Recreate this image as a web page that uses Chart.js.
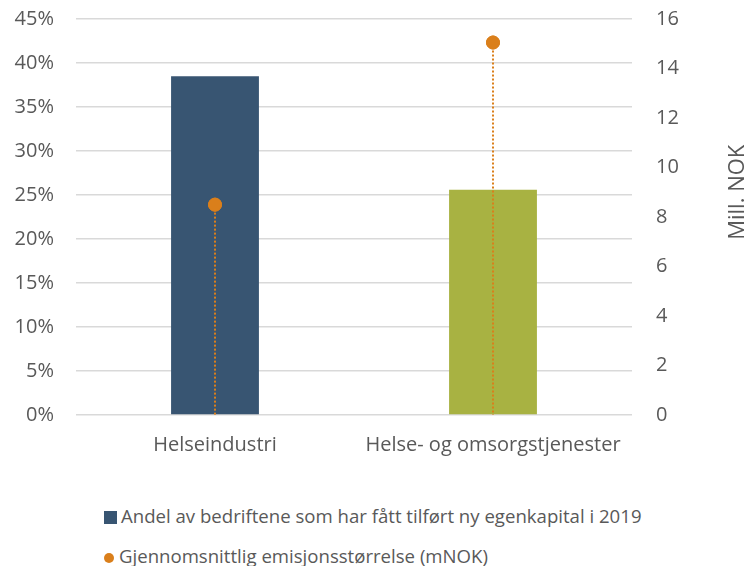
<!DOCTYPE html>
<html lang="no">
<head>
    <meta charset="UTF-8">
    <title>Egenkapital</title>
    <script src="https://cdn.jsdelivr.net/npm/chart.js"></script>
    <style>
        html, body { margin: 0; padding: 0; background: #fff; overflow: hidden; }
        .wrap { position: relative; width: 749px; height: 566px; overflow: hidden; }
        .chart-box { position: absolute; left: 0; top: -15px; width: 749px; height: 482px; }
        .legend { position: absolute; left: 104px; top: 504px; font-family: "Open Sans", sans-serif; font-size: 18.6px; color: #595959; }
        .legend div { height: 24px; line-height: 24px; margin-bottom: 16px; white-space: nowrap; }
        .sq { display: inline-block; width: 13px; height: 13px; background: #385572; margin-right: 4px; vertical-align: -1px; }
        .dot { display: inline-block; width: 10px; height: 10px; border-radius: 50%; background: #DA7F1B; margin-right: 5px; vertical-align: 0px; }
    </style>
</head>
<body>
    <div class="wrap">
        <div class="chart-box"><canvas id="chart"></canvas></div>
        <div class="legend">
            <div><span class="sq"></span>Andel av bedriftene som har fått tilført ny egenkapital i 2019</div>
            <div><span class="dot"></span>Gjennomsnittlig emisjonsstørrelse (mNOK)</div>
        </div>
    </div>

    <script>
        // data
        const categories = ['Helseindustri', 'Helse- og omsorgstjenester'];
        const andel = [0.385, 0.256];
        const emisjon = [8.5, 15.05];
        const barColors = ['#385572', '#A8B242'];
        const orange = '#DA7F1B';

        const fontFamily = '"Open Sans", sans-serif';
        const font = { family: fontFamily, size: 20 };

        // stiplet linje fra punkt ned til null + aksetittel høyre
        const dropLines = {
            id: 'dropLines',
            afterDatasetsDraw(chart) {
                const meta = chart.getDatasetMeta(1);
                const y1 = chart.scales.y1;
                const ctx = chart.ctx;
                ctx.save();
                ctx.strokeStyle = orange;
                ctx.lineWidth = 2;
                ctx.setLineDash([2, 2]);
                meta.data.forEach(pt => {
                    ctx.beginPath();
                    ctx.moveTo(pt.x, pt.y);
                    ctx.lineTo(pt.x, y1.getPixelForValue(0));
                    ctx.stroke();
                });
                ctx.restore();
                meta.data.forEach(pt => pt.draw(ctx));

                // "Mill. NOK" leses nedenfra og opp
                ctx.save();
                ctx.translate(y1.right - 11, y1.getPixelForValue(9.0));
                ctx.rotate(-Math.PI / 2);
                ctx.font = '22px ' + fontFamily;
                ctx.fillStyle = '#595959';
                ctx.textAlign = 'center';
                ctx.textBaseline = 'middle';
                ctx.fillText('Mill. NOK', 0, 0);
                ctx.restore();
            }
        };

        new Chart(document.getElementById('chart'), {
            type: 'bar',
            data: {
                labels: categories,
                datasets: [{
                    data: andel,
                    backgroundColor: barColors,
                    barPercentage: 0.316,
                    categoryPercentage: 1,
                    yAxisID: 'y',
                    order: 2
                }, {
                    type: 'line',
                    data: emisjon,
                    showLine: false,
                    pointRadius: 6.5,
                    pointBackgroundColor: orange,
                    pointBorderColor: orange,
                    yAxisID: 'y1',
                    order: 1
                }]
            },
            options: {
                responsive: true,
                maintainAspectRatio: false,
                animation: false,
                layout: { padding: { top: 8, bottom: 0 } },
                plugins: { legend: { display: false }, tooltip: { enabled: false } },
                scales: {
                    x: {
                        grid: { display: false },
                        border: { display: false },
                        ticks: { color: '#595959', font: font, padding: 10 }
                    },
                    y: {
                        position: 'left',
                        min: 0, max: 0.45,
                        ticks: {
                            stepSize: 0.05,
                            color: '#595959', font: font, padding: 22,
                            callback: v => Math.round(v * 100) + '%'
                        },
                        grid: { color: '#d9d9d9', lineWidth: 1.5, drawTicks: false },
                        border: { display: false },
                        afterFit(s) { s.width = 76; }
                    },
                    y1: {
                        position: 'right',
                        min: 0, max: 16,
                        ticks: { stepSize: 2, color: '#595959', font: font, padding: 16 },
                        grid: { display: false },
                        border: { display: false },
                        afterFit(s) { s.width = 117; }
                    }
                }
            },
            plugins: [dropLines]
        });
    </script>
</body>
</html>
